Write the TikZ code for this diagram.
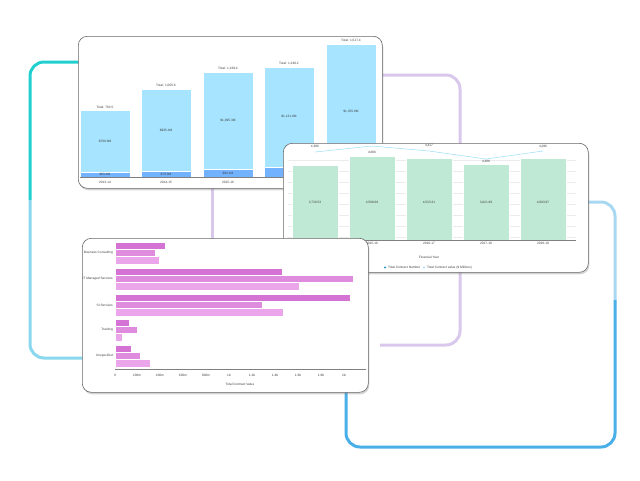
\documentclass[tikz,border=0pt]{standalone}
\usepackage{fontspec}
\setmainfont{Liberation Sans}
\usetikzlibrary{shadows}
\begin{document}
\begin{tikzpicture}[x=1pt,y=-1pt,
  card/.style={fill=white,draw=black!60,line width=0.6pt,rounded corners=9pt,drop shadow={shadow xshift=1pt,shadow yshift=-2pt,opacity=0.35}},
  tx/.style={font=\fontsize{3.2}{3.6}\selectfont,inner sep=0pt,text=black!75},
  bb/.style={fill=blue!30!cyan!35,draw=white,line width=0.4pt},
  bd/.style={fill=blue!55!cyan!55,draw=white,line width=0.4pt},
  tb/.style={fill=cyan!35!green!25!white,draw=white,line width=0.4pt},
  p1/.style={fill=violet!60!magenta!55,draw=white,line width=0.3pt},
  p2/.style={fill=violet!55!magenta!45,draw=white,line width=0.3pt},
  p3/.style={fill=violet!45!magenta!35,draw=white,line width=0.3pt}]
\useasboundingbox (0,0) rectangle (640,480);
\definecolor{tealA}{HTML}{22CFCF}\definecolor{tealB}{HTML}{8BD8EE}
\definecolor{lav}{HTML}{D9C8EC}\definecolor{skyA}{HTML}{A8D8F2}\definecolor{skyB}{HTML}{4AAEE8}
% background lines
\draw[tealA,line width=3pt,rounded corners=14pt] (90,62) -- (30,62) -- (30,200);
\draw[tealB,line width=3pt,rounded corners=14pt] (30,200) -- (30,358) -- (90,358);
\draw[lav,line width=3pt,rounded corners=14pt] (375,75) -- (460,75) -- (460,345) -- (380,345);
\draw[lav,line width=3pt] (212,185) -- (212,245);
\draw[skyA,line width=3pt,rounded corners=14pt] (575,202) -- (615,202) -- (615,300);
\draw[skyB,line width=3pt,rounded corners=14pt] (615,300) -- (615,447) -- (346,447) -- (346,385);
% card 1
\node[card,minimum width=304pt,minimum height=152pt,anchor=north west] (c1) at (78,36) {};
\foreach \xa/\top/\dk/\tot/\md/\low/\yr in {80/110/172/{763.5}/{\$700.8M}/{\$63.4M}/{2013-14},141/89/171/{1,005.6}/{\$935.4M}/{\$70.0M}/{2014-15},203/72/169/{1,169.4}/{\$1,095.3M}/{\$94.1M}/{2015-16},264/67/167/{1,240.2}/{\$1,131.0M}/{}/{},326/44/180/{1,517.4}/{\$1,355.8M}/{}/{}}{
  \fill[bb] (\xa,\top) rectangle (\xa+50,177);
  \fill[bd] (\xa,\dk) rectangle (\xa+50,177);
  \node[tx] at (\xa+25,\top-3) {Total: \tot};
  \node[tx] at (\xa+25,{(\top+\dk)/2}) {\md};
  \node[tx] at (\xa+25,{(\dk+177)/2}) {\low};
  \node[tx] at (\xa+25,182) {\yr};
}
\draw[black!50,line width=0.3pt] (80,177) -- (378,177);
% card 2
\node[card,minimum width=305pt,minimum height=129pt,anchor=north west] (c2) at (283,143) {};
\foreach \k in {0,...,7}{\draw[black!8,line width=0.3pt] (288,{160+\k*11}) -- (576,{160+\k*11});}
\foreach \xa/\top/\v/\yr in {292/165/{3,730.53}/{2014-15},349/156/{4,598.69}/{2015-16},406/158/{4,533.31}/{2016-17},463/164/{3,821.69}/{2017-18},520/158/{4,093.97}/{2018-19}}{
  \fill[tb] (\xa,\top) rectangle (\xa+46,240);
  \node[tx] at (\xa+23,203) {\v};
  \node[tx] at (\xa+23,243) {\yr};
}
\draw[cyan!40,line width=0.5pt] (315,152) -- (372,146) -- (429,151) -- (486,159) -- (543,151);
\node[tx] at (315,147) {4,386};\node[tx] at (372,153) {4,606};\node[tx] at (429,146) {4,417};
\node[tx] at (486,162) {4,388};\node[tx] at (543,147) {4,296};
\draw[black!50,line width=0.3pt] (288,240) -- (576,240);
\node[tx] at (429,257) {Financial Year};
\fill[cyan!60!teal] (385,267.5) circle (1.2pt);\node[tx,anchor=west] at (388,267.5) {Total Contract Number};
\fill[cyan!35] (424,267.5) circle (1.2pt);\node[tx,anchor=west] at (427,267.5) {Total Contract value (\$ Millions)};
% card 3
\node[card,minimum width=286pt,minimum height=154pt,anchor=north west] (c3) at (82,238) {};
\foreach \y/\a/\b/\c/\n in {242/165/155/159/{Business Consulting},268/282/353/299/{IT Managed Services},294/350/262/283/{SI Services},319/129/137/122/{Training},345/131/140/150/{Unspecified}}{
  \fill[p1] (115,\y) rectangle (\a,\y+7.3);
  \fill[p2] (115,\y+7.3) rectangle (\b,\y+14.6);
  \fill[p3] (115,\y+14.6) rectangle (\c,\y+22);
  \node[tx,anchor=east] at (113,\y+11) {\n};
}
\draw[black!50,line width=0.3pt] (115,369) -- (366,369);
\foreach \xv/\l in {115/0,137/200m,160/400m,183/600m,206/800m,229/1b,252/1.2b,275/1.4b,298/1.6b,321/1.8b,344/2b}{
  \node[tx] at (\xv,375) {\l};
}
\node[tx] at (240,384) {Total Contract Value};
\end{tikzpicture}
\end{document}
